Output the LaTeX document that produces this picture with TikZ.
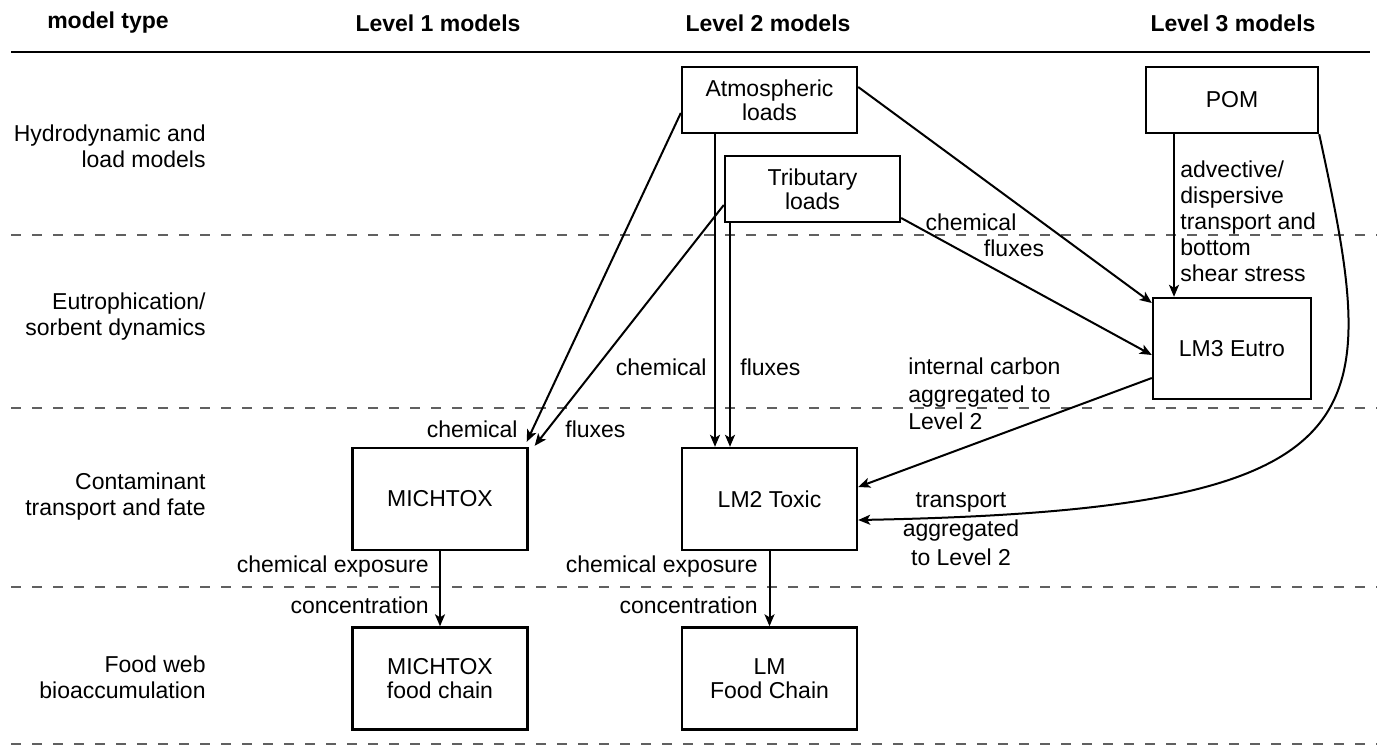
\documentclass[tikz,border=0pt]{standalone}
\usepackage{fontspec}
\setmainfont{Liberation Sans}
\usetikzlibrary{arrows.meta,calc}

\tikzset{
  box/.style={draw,line width=1.2pt,minimum width=87.5pt,minimum height=51pt,align=center,inner sep=0pt,font=\fontsize{11.5}{11.8}\selectfont},
  arr/.style={line width=1pt,-{Stealth[length=6pt,width=5pt,inset=1.5pt]}},
  rowline/.style={line width=1pt,gray!75!black,dash pattern=on 5pt off 5.5pt},
  headtxt/.style={font=\bfseries\fontsize{11.5}{13}\selectfont},
  rowlbl/.style={anchor=east,align=right,inner sep=0pt},
  lbl/.style={inner sep=0pt}
}

\begin{document}
\begin{tikzpicture}[x=0.5pt,y=-0.5pt,font=\fontsize{11.5}{13}\selectfont]
\useasboundingbox (0,0) rectangle (1377,745);
\node[headtxt] (hType) at (108,23) {model type};
\node[headtxt] (hOne) at (438,23) {Level 1 models};
\node[headtxt] (hTwo) at (768,23) {Level 2 models};
\node[headtxt] (hThree) at (1233,23) {Level 3 models};
\draw[line width=1.2pt] (11,52) -- (1370,52);
\foreach \y in {235,408,587,744}
\draw[rowline] (11,\y) -- (1377,\y);
\node[rowlbl] (rHyd) at (206,146) {Hydrodynamic and\\load models};
\node[rowlbl] (rEut) at (206,317) {Eutrophication/\\sorbent dynamics};
\node[rowlbl] (rCon) at (206,497) {Contaminant\\transport and fate};
\node[rowlbl] (rFood) at (206,677) {Food web\\bioaccumulation};
\node[box,minimum height=33pt] (atmo) at (769.5,100) {Atmospheric\\loads};
\node[box,minimum height=33pt] (trib) at (812.5,189) {Tributary\\loads};
\node[box,minimum width=86pt,minimum height=33pt] (pom) at (1232,100) {POM};
\node[box,minimum width=79pt,minimum height=50.5pt] (eutro) at (1232,348.5) {LM3 Eutro};
\node[box] (michtox) at (440,499) {MICHTOX};
\node[box] (toxic) at (769.5,499) {LM2 Toxic};
\node[box] (mfood) at (440,678.5) {MICHTOX\\food chain};
\node[box] (lmfood) at (769.5,678.5) {LM\\Food Chain};
\draw[arr] ([yshift=-6.5pt]atmo.west) -- ([xshift=-1pt,yshift=2.5pt]michtox.north east);
\draw[arr] ([yshift=-8pt]trib.west) -- ([xshift=3pt,yshift=0.5pt]michtox.north east);
\draw[arr] ([xshift=-27.25pt]atmo.south) -- ([xshift=-27.25pt]atmo.south |- toxic.north);
\draw[arr] ([xshift=-41.25pt]trib.south) -- ([xshift=-41.25pt]trib.south |- toxic.north);
\draw[arr] ([yshift=6.5pt]atmo.east) -- ([yshift=22.75pt]eutro.west);
\draw[arr] ([yshift=-14.5pt]trib.east) -- ([yshift=-3.25pt]eutro.west);
\draw[arr] ([xshift=-29pt]pom.south) -- ([xshift=-29pt]pom.south |- eutro.north);
\draw[arr] ([yshift=-14.75pt]eutro.west) -- ([yshift=6pt]toxic.east);
\draw[arr] (pom.south east) .. controls +(62,287) and +(533,-10) .. ([yshift=-10.5pt]toxic.east);
\draw[arr] (michtox) -- (mfood);
\draw[arr] (toxic) -- (lmfood);
\node[lbl,anchor=east] (lChemA) at (518,429) {chemical};
\node[lbl,anchor=west] (lFluxA) at (565,429) {fluxes};
\node[lbl,anchor=east] (lChemB) at (707,367) {chemical};
\node[lbl,anchor=west] (lFluxB) at (740,367) {fluxes};
\node[lbl] (lChemC) at (971,222) {chemical};
\node[lbl] (lFluxC) at (1014,248) {fluxes};
\node[lbl,anchor=west,align=left] (lAdv) at (1180,221.5) {advective/\\dispersive\\transport and\\bottom\\shear stress};
\node[lbl,anchor=west,align=left,font=\fontsize{11.5}{13.7}\selectfont] (lCarb) at (908,394) {internal carbon\\aggregated to\\Level 2};
\node[lbl,align=center,font=\fontsize{11.5}{14.5}\selectfont] (lTrans) at (961,529) {transport\\aggregated\\to Level 2};
\node[lbl,anchor=east] (lExpA) at (429,567) {chemical exposure};
\node[lbl,anchor=east] (lConA) at (429,605) {concentration};
\node[lbl,anchor=east] (lExpB) at (758,567) {chemical exposure};
\node[lbl,anchor=east] (lConB) at (758,605) {concentration};
\end{tikzpicture}
\end{document}
